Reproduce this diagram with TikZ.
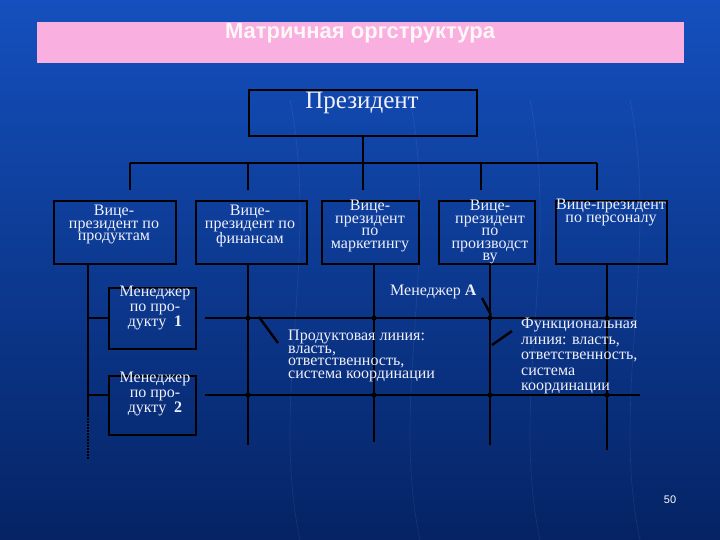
\documentclass[tikz,border=0pt]{standalone}
\usepackage{fontspec}
\setmainfont{Liberation Serif}
\newfontfamily\titlefont{Liberation Sans}
\definecolor{bgtop}{RGB}{20,80,190}
\definecolor{bgbot}{RGB}{5,35,100}
\definecolor{pinkbar}{RGB}{250,175,225}
\definecolor{txt}{RGB}{240,240,250}
\begin{document}
\begin{tikzpicture}[x=1pt,y=-1pt,
  box/.style={draw=black,line width=2pt,inner sep=0pt,anchor=north west},
  ln/.style={draw=black,line width=2.4pt},
  lbl/.style={text=txt,align=left,font=\fontsize{16}{12.5}\selectfont,inner sep=0pt},
  crs/.style={fill=black,circle,inner sep=0pt,minimum size=5pt}]
\shade[top color=bgtop,bottom color=bgbot] (0,0) rectangle (720,540);
\useasboundingbox (0,0) rectangle (720,540);
\foreach \x in {300,420,540,640}{\draw[white,opacity=0.08,line width=0.6pt] (\x,540) .. controls (\x-30,400) and (\x+20,250) .. (\x-10,100);}
\fill[pinkbar] (37,22) rectangle (684,63);
\node[font=\titlefont\bfseries\fontsize{22}{22}\selectfont,text=white!85!pink] (title) at (360,33) {Матричная оргструктура};
% president
\node[box,minimum width=228pt,minimum height=46pt] (pres) at (248,89) {};
\node[text=txt,font=\fontsize{25}{25}\selectfont,inner sep=0pt] (prest) at (362,103) {Президент};
% VP boxes
\node[box,minimum width=122pt,minimum height=63pt] (vp1) at (53,200) {};
\node[box,minimum width=111pt,minimum height=63pt] (vp2) at (195,200) {};
\node[box,minimum width=97pt,minimum height=63pt] (vp3) at (321,200) {};
\node[box,minimum width=96pt,minimum height=63pt] (vp4) at (438,200) {};
\node[box,minimum width=111pt,minimum height=63pt] (vp5) at (555,200) {};
\node[lbl,align=center,anchor=north] (t1) at (114,205) {Вице-\\президент по\\продуктам};
\node[lbl,align=center,anchor=north] (t2) at (250,205) {Вице-\\президент по\\финансам};
\node[lbl,align=center,anchor=north] (t3) at (370,200) {Вице-\\президент\\по\\маркетингу};
\node[lbl,align=center,anchor=north] (t4) at (490,200) {Вице-\\президент\\по\\производст\\ву};
\node[lbl,align=center,anchor=north] (t5) at (611,199) {Вице-президент\\по персоналу};
% tree
\coordinate (hL) at (130,163); \coordinate (hR) at (597,163);
\draw[ln] (pres.south) -- (363,163);
\draw[ln] (hL) -- (hR);
\foreach \x in {130,248,363,481,597}{\draw[ln] (\x,163) -- (\x,190);}
% managers
\node[box,minimum width=87pt,minimum height=61pt] (m1) at (108,287) {};
\node[box,minimum width=87pt,minimum height=59pt] (m2) at (108,375) {};
\node[lbl,align=center,anchor=north,font=\fontsize{16}{15}\selectfont] (mt1) at (155,286) {Менеджер\\по про-\\дукту\enspace\textbf{1}};
\node[lbl,align=center,anchor=north,font=\fontsize{16}{15}\selectfont] (mt2) at (155,372) {Менеджер\\по про-\\дукту\enspace\textbf{2}};
\draw[ln] (88,263) -- (88,415);
\draw[black,line width=2.4pt,dash pattern=on 1.5pt off 1.5pt] (88,415) -- (88,460);
\draw[ln] (88,318) -- (m1.west|-88,318);
\draw[ln] (88,395) -- (m2.west|-88,395);
% matrix lines
\draw[ln] (205,318) -- (633,318);
\draw[ln] (205,395) -- (640,395);
\draw[ln] (vp2.south-|248,263) -- (248,445);
\draw[ln] (374,263) -- (374,442);
\draw[ln] (490,263) -- (490,445);
\draw[ln] (607,263) -- (607,450);
\foreach \x in {248,374,490,607}{\node[crs] at (\x,318) {}; \node[crs] at (\x,395) {};}
% labels
\node[lbl,anchor=west,font=\fontsize{16}{16}\selectfont] (ma) at (390,292) {Менеджер \textbf{А}};
\node[lbl,anchor=north west] (pl) at (288,330) {Продуктовая линия:\\власть,\\ответственность,\\система координации};
\node[lbl,anchor=north west,font=\fontsize{16}{15.5}\selectfont] (fl) at (521,318) {Функциональная\\линия: власть,\\ответственность,\\система\\координации};
\draw[ln] (259,317) -- (278,343);
\draw[ln] (482,298) -- (491,315);
\draw[ln] (492,345) -- (512,331);
\node[text=white,font=\fontsize{11}{11}\selectfont\titlefont] (pg) at (670,500) {50};
\end{tikzpicture}
\end{document}
